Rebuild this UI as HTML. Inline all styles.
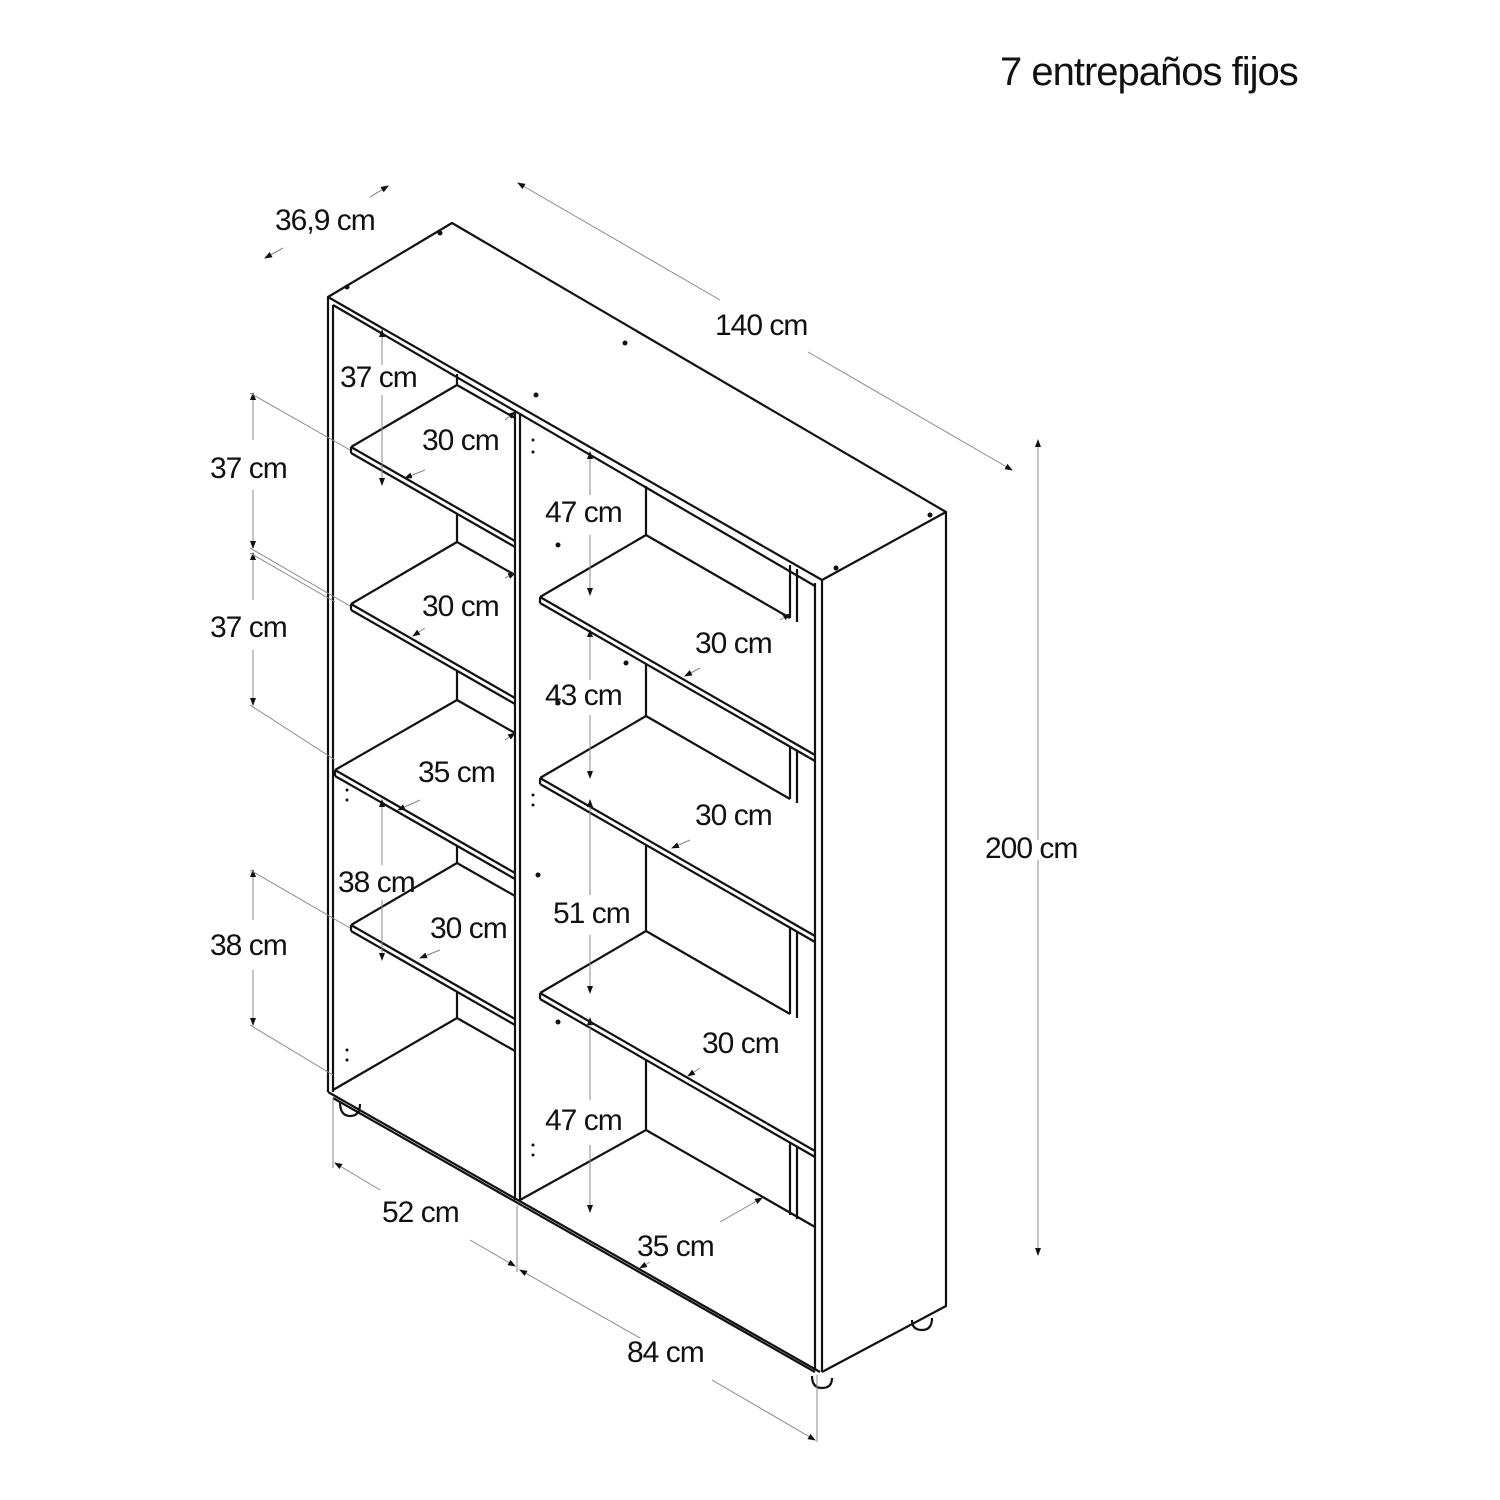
<!DOCTYPE html>
<html><head><meta charset="utf-8"><style>
html,body{margin:0;padding:0;background:#fff}
svg{display:block}
text{font-family:"Liberation Sans",sans-serif;font-size:30px;fill:#111;font-weight:300;letter-spacing:-1px}
</style></head><body>
<svg width="1500" height="1500" viewBox="0 0 1500 1500" xmlns="http://www.w3.org/2000/svg">
<defs>
<marker id="a" markerWidth="8" markerHeight="8" refX="7" refY="4" orient="auto" markerUnits="userSpaceOnUse"><path d="M0,1 L8,4 L0,7z" fill="#111"/></marker>
</defs>
<g stroke="#111" stroke-width="2.2" fill="none" stroke-linejoin="round">
<!-- top -->
<path d="M328,297 L452,223 L946,512 L822,580 Z"/>
<path d="M333,305 L815,586"/>
<!-- left panel -->
<path d="M328,297 V1092 M333,305 V1092 M328,1092 L820,1372"/>
<path d="M333,1098 L815,1372"/>
<!-- divider -->
<path d="M515,410 V1200 M520,413 V1200"/>
<!-- right panel -->
<path d="M815,583 V1370 M822,580 V1372 M946,512 V1306 L822,1372"/>
<!-- left shelves -->
<path d="M351,447 L457,385 L515,418 M351,447 L515,541 M351,453 L515,547 M351,447 V453"/>
<path d="M351,604 L457,542 L515,575 M351,604 L515,698 M351,610 L515,704 M351,604 V610"/>
<path d="M335,770 L457,700 L515,733 M335,770 L515,873 M335,776 L515,879 M335,770 V776"/>
<path d="M351,925 L457,863 L515,896 M351,925 L515,1019 M351,931 L515,1025 M351,925 V931"/>
<path d="M333,1090 L457,1018 L515,1051"/>
<path d="M457,374 V385 M457,514 V542 M457,671 V700 M457,846 V863 M457,992 V1018"/>
<!-- right shelves -->
<path d="M540,597 L646,535 L790,618 M540,597 L815,755 M540,603 L815,761 M540,597 V603"/>
<path d="M540,778 L646,716 L790,799 M540,778 L815,936 M540,784 L815,942 M540,778 V784"/>
<path d="M540,993 L646,931 L790,1014 M540,993 L815,1151 M540,999 L815,1157 M540,993 V999"/>
<path d="M520,1200 L646,1130 L815,1227"/>
<path d="M646,486 V535 M646,664 V716 M646,845 V931 M646,1060 V1130"/>
<path d="M790,565 V618 M797,569 V622 M790,746 V799 M797,750 V803 M790,927 V1014 M797,931 V1018 M790,1142 V1215 M797,1146 V1219"/>
<!-- feet -->
<path d="M340,1102 q0,14 10,14 q10,0 10,-12"/>
<path d="M812,1376 q0,12 10,12 q10,0 10,-10"/>
<path d="M912,1320 q0,10 10,10 q10,0 10,-12"/>
</g>
<g fill="#111">
<circle cx="440" cy="233" r="2.5"/><circle cx="347" cy="287" r="2.5"/><circle cx="625" cy="343" r="2.5"/><circle cx="536" cy="395" r="2.5"/>
<circle cx="930" cy="515" r="2.5"/><circle cx="836" cy="568" r="2.5"/><circle cx="558" cy="545" r="2.5"/><circle cx="626" cy="663" r="2.5"/>
<circle cx="558" cy="703" r="2.5"/><circle cx="538" cy="875" r="2.5"/><circle cx="558" cy="1022" r="2.5"/>
<circle cx="533" cy="440" r="1.5"/><circle cx="533" cy="452" r="1.5"/><circle cx="533" cy="795" r="1.5"/><circle cx="533" cy="805" r="1.5"/>
<circle cx="533" cy="1145" r="1.5"/><circle cx="533" cy="1155" r="1.5"/><circle cx="347" cy="790" r="1.5"/><circle cx="347" cy="800" r="1.5"/>
<circle cx="347" cy="1050" r="1.5"/><circle cx="347" cy="1060" r="1.5"/>
</g>
<!-- dimension lines -->
<g stroke="#888" stroke-width="1" fill="none">
<path d="M265,258 L283,248 M370,197 L388,186" marker-end="url(#a)"/>
<path d="M283,248 L265,258" marker-end="url(#a)"/>
<path d="M370,197 L388,186" marker-end="url(#a)"/>
<path d="M720,300 L518,183" marker-end="url(#a)"/>
<path d="M808,352 L1012,470" marker-end="url(#a)"/>
<path d="M1038,840 V440" marker-end="url(#a)"/>
<path d="M1038,860 V1255" marker-end="url(#a)"/>
<path d="M253,440 V393" marker-end="url(#a)"/><path d="M253,490 V548" marker-end="url(#a)"/>
<path d="M253,600 V553" marker-end="url(#a)"/><path d="M253,650 V705" marker-end="url(#a)"/>
<path d="M253,920 V870" marker-end="url(#a)"/><path d="M253,970 V1025" marker-end="url(#a)"/>
<path d="M250,393 L350,450 M250,548 L350,606 M250,553 L335,602 M250,705 L335,760 M250,870 L350,928 M250,1025 L333,1075"/>
<path d="M333,1098 V1168 M517,1205 V1272 M817,1375 V1442"/>
<path d="M380,1190 L335,1163" marker-end="url(#a)"/>
<path d="M470,1240 L515,1266" marker-end="url(#a)"/>
<path d="M640,1338 L520,1270" marker-end="url(#a)"/>
<path d="M712,1380 L815,1440" marker-end="url(#a)"/>
<path d="M382,365 V330" marker-end="url(#a)"/><path d="M382,395 V485" marker-end="url(#a)"/>
<path d="M590,495 V452" marker-end="url(#a)"/><path d="M590,535 V595" marker-end="url(#a)"/>
<path d="M590,680 V630" marker-end="url(#a)"/><path d="M590,715 V778" marker-end="url(#a)"/>
<path d="M590,895 V800" marker-end="url(#a)"/><path d="M590,935 V993" marker-end="url(#a)"/>
<path d="M590,1100 V1018" marker-end="url(#a)"/><path d="M590,1145 V1212" marker-end="url(#a)"/>
<path d="M382,865 V800" marker-end="url(#a)"/><path d="M382,900 V960" marker-end="url(#a)"/>
<path d="M425,470 L405,478" marker-end="url(#a)"/><path d="M505,420 L515,412" marker-end="url(#a)"/>
<path d="M425,628 L413,636" marker-end="url(#a)"/><path d="M505,578 L515,573" marker-end="url(#a)"/>
<path d="M420,800 L398,810" marker-end="url(#a)"/><path d="M505,740 L515,733" marker-end="url(#a)"/>
<path d="M440,950 L420,958" marker-end="url(#a)"/>
<path d="M700,668 L685,676" marker-end="url(#a)"/><path d="M780,620 L790,614" marker-end="url(#a)"/>
<path d="M690,840 L672,848" marker-end="url(#a)"/>
<path d="M700,1068 L688,1076" marker-end="url(#a)"/>
<path d="M720,1222 L762,1198" marker-end="url(#a)"/>
<path d="M650,1262 L640,1268" marker-end="url(#a)"/>
</g>
<text x="1000" y="85" style="font-size:40px">7 entrepaños fijos</text>
<text x="275" y="230">36,9 cm</text>
<text x="715" y="335">140 cm</text>
<text x="985" y="858">200 cm</text>
<text x="210" y="478">37 cm</text>
<text x="210" y="637">37 cm</text>
<text x="210" y="955">38 cm</text>
<text x="340" y="387">37 cm</text>
<text x="422" y="450">30 cm</text>
<text x="422" y="616">30 cm</text>
<text x="418" y="782">35 cm</text>
<text x="338" y="892">38 cm</text>
<text x="430" y="938">30 cm</text>
<text x="545" y="522">47 cm</text>
<text x="545" y="705">43 cm</text>
<text x="553" y="923">51 cm</text>
<text x="545" y="1130">47 cm</text>
<text x="695" y="653">30 cm</text>
<text x="695" y="825">30 cm</text>
<text x="702" y="1053">30 cm</text>
<text x="637" y="1256">35 cm</text>
<text x="382" y="1222">52 cm</text>
<text x="627" y="1362">84 cm</text>
</svg>
</body></html>
